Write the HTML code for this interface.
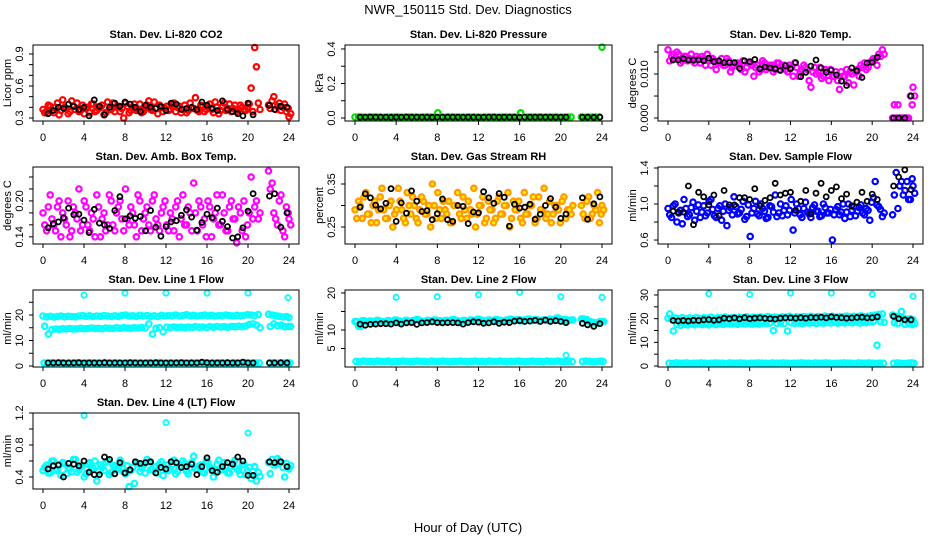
<!DOCTYPE html>
<html><head><meta charset="utf-8"><style>
html,body{margin:0;padding:0;background:#fff;}
svg{display:block;font-family:"Liberation Sans",Arial,sans-serif;}
</style></head><body>
<svg id="chart" width="936" height="540" viewBox="0 0 936 540" xmlns="http://www.w3.org/2000/svg">
<text x="468" y="14" font-size="13" text-anchor="middle">NWR_150115  Std. Dev. Diagnostics</text>
<text x="468" y="532" font-size="13" text-anchor="middle">Hour of Day (UTC)</text>
</svg>
<script>
// ---- data ----
const xTicks = [0,4,8,12,16,20,24];
const co2Red1 = [0.38,0.36,0.41,0.35,0.44,0.37,0.40,0.34,0.46,0.38,0.36,0.42,0.39,0.35,0.43,0.37,0.40,0.33,0.45,0.38,0.36,0.41,0.39,0.44,0.35,0.40,0.37,0.43,0.36,0.42,0.38,0.45,0.34,0.40,0.39,0.37,0.43,0.36,0.41,0.38,0.35,0.44,0.39,0.37,0.42,0.36,0.40,0.38,0.45,0.34,0.41,0.37,0.43,0.39,0.36,0.42,0.38,0.40,0.58,0.96,0.44,0.42,0.46,0.38,0.44,0.40,0.36,0.31];
const co2Red2 = [0.35,0.42,0.37,0.40,0.33,0.47,0.39,0.36,0.41,0.44,0.37,0.34,0.40,0.43,0.36,0.39,0.42,0.35,0.38,0.44,0.40,0.36,0.30,0.41,0.37,0.43,0.38,0.35,0.40,0.46,0.37,0.39,0.42,0.36,0.41,0.38,0.44,0.40,0.35,0.42,0.37,0.39,0.49,0.36,0.41,0.38,0.43,0.35,0.40,0.37,0.44,0.39,0.36,0.42,0.38,0.40,0.37,0.43,0.36,0.78,0.38,0.39,0.50,0.41,0.37,0.43,0.39,0.34];
const co2Black = [0.34,0.37,0.40,0.39,0.43,0.41,0.38,0.40,0.32,0.47,0.41,0.33,0.40,0.44,0.41,0.45,0.43,0.40,0.36,0.42,0.40,0.39,0.41,0.37,0.44,0.43,0.38,0.39,0.40,0.38,0.45,0.42,0.39,0.37,0.46,0.38,0.36,0.34,0.32,0.44,0.33,0.42,0.38,0.41,0.40];
const presGreen = [0.005,0.006,0.005,0.004,0.005,0.006,0.005,0.005,0.004,0.006,0.005,0.005,0.006,0.004,0.005,0.005,0.006,0.005,0.004,0.005,0.006,0.005,0.005,0.030,0.005,0.004,0.006,0.005,0.005,0.006,0.004,0.005,0.005,0.006,0.005,0.004,0.005,0.006,0.005,0.005,0.004,0.006,0.005,0.005,0.006,0.005,0.030,0.004,0.005,0.006,0.005,0.005,0.004,0.006,0.005,0.005,0.006,0.004,0.005,0.005,0.006,0.005,0.004,0.005,0.006,0.005,0.005,0.410];
const presBlack = [0.005,0.005,0.006,0.005,0.005,0.005,0.004,0.005,0.005,0.006,0.005,0.005,0.005,0.005,0.004,0.005,0.005,0.006,0.005,0.005,0.005,0.005,0.005,0.004,0.005,0.005,0.006,0.005,0.005,0.005,0.005,0.004,0.005,0.005,0.005,0.006,0.005,0.005,0.005,0.005,0.005,0.005,0.005,0.004,0.005];
const tempMag1 = [0.0155,0.014,0.0135,0.0145,0.013,0.014,0.0135,0.013,0.014,0.0125,0.0135,0.0145,0.012,0.013,0.0125,0.0135,0.012,0.013,0.0115,0.0125,0.012,0.013,0.0115,0.0125,0.0095,0.012,0.011,0.0125,0.0115,0.012,0.011,0.0125,0.0115,0.011,0.012,0.0095,0.0115,0.0105,0.012,0.011,0.007,0.0115,0.0105,0.009,0.011,0.0085,0.0095,0.0105,0.0065,0.0095,0.011,0.0105,0.0075,0.011,0.012,0.0125,0.0115,0.013,0.0135,0.0145,0.0155,0,0,0,0,0,0.005,0.007];
const tempMag2 = [0.013,0.0145,0.015,0.0125,0.014,0.013,0.0145,0.0125,0.0135,0.014,0.012,0.013,0.0135,0.011,0.0125,0.012,0.0135,0.0105,0.012,0.0125,0.011,0.0105,0.0125,0.012,0.0115,0.0105,0.013,0.011,0.012,0.0105,0.0125,0.011,0.012,0.0105,0.0115,0.0125,0.0095,0.011,0.0115,0.0085,0.0105,0.01,0.0115,0.0095,0.0105,0.011,0.0095,0.0085,0.0105,0.0095,0.008,0.01,0.0105,0.0095,0.0115,0.011,0.0125,0.0135,0.012,0.014,0.0145,0.003,0.003,0,0,0,0.003,0.005];
const tempBlack = [0.0132,0.0132,0.0135,0.0132,0.0132,0.0132,0.0130,0.0136,0.0128,0.013,0.0126,0.0126,0.0126,0.0113,0.013,0.0128,0.0133,0.0112,0.0116,0.0114,0.0112,0.0108,0.0119,0.0112,0.0126,0.0094,0.0104,0.0118,0.0132,0.0114,0.0104,0.0109,0.0098,0.0084,0.0074,0.0114,0.0107,0.0092,0.0125,0.0127,0.0138,0,0,0,0.005];
const ambMag1 = [0.18,0.15,0.21,0.16,0.19,0.14,0.17,0.20,0.15,0.18,0.22,0.16,0.19,0.15,0.17,0.21,0.14,0.18,0.16,0.20,0.15,0.19,0.17,0.22,0.16,0.18,0.14,0.20,0.17,0.19,0.15,0.21,0.16,0.18,0.20,0.15,0.17,0.19,0.14,0.21,0.16,0.18,0.23,0.15,0.19,0.17,0.20,0.14,0.18,0.16,0.21,0.15,0.19,0.17,0.13,0.18,0.20,0.16,0.24,0.19,0.17,0.25,0.23,0.17,0.20,0.15,0.19,0.17];
const ambMag2 = [0.16,0.19,0.17,0.15,0.20,0.18,0.16,0.14,0.19,0.17,0.15,0.20,0.16,0.18,0.14,0.19,0.17,0.15,0.21,0.16,0.18,0.20,0.15,0.17,0.19,0.16,0.21,0.15,0.18,0.16,0.20,0.17,0.15,0.19,0.16,0.18,0.15,0.20,0.17,0.16,0.19,0.15,0.18,0.20,0.16,0.14,0.19,0.17,0.21,0.16,0.18,0.15,0.20,0.17,0.19,0.15,0.14,0.18,0.17,0.20,0.18,0.22,0.18,0.16,0.21,0.14,0.18,0.16];
const ambBlack = [0.155,0.162,0.165,0.172,0.188,0.177,0.178,0.168,0.147,0.186,0.163,0.160,0.154,0.184,0.207,0.170,0.175,0.171,0.174,0.150,0.184,0.156,0.141,0.157,0.165,0.167,0.176,0.185,0.173,0.151,0.164,0.178,0.172,0.188,0.166,0.157,0.138,0.140,0.155,0.183,0.212,0.208,0.212,0.156,0.180];
const rh1 = [0.29,0.31,0.27,0.33,0.28,0.30,0.26,0.32,0.29,0.27,0.31,0.28,0.34,0.29,0.26,0.30,0.32,0.27,0.29,0.31,0.28,0.25,0.30,0.33,0.27,0.29,0.31,0.26,0.30,0.28,0.32,0.27,0.29,0.34,0.28,0.30,0.26,0.31,0.29,0.27,0.32,0.28,0.30,0.25,0.31,0.29,0.27,0.33,0.28,0.30,0.26,0.32,0.29,0.27,0.31,0.28,0.30,0.26,0.32,0.29,0.28,0.30,0.27,0.32,0.28,0.29,0.26,0.30];
const rh2 = [0.27,0.30,0.32,0.28,0.26,0.31,0.29,0.34,0.27,0.30,0.25,0.29,0.31,0.27,0.33,0.28,0.30,0.26,0.32,0.28,0.30,0.35,0.27,0.29,0.31,0.28,0.26,0.30,0.33,0.27,0.29,0.31,0.28,0.25,0.30,0.32,0.27,0.29,0.26,0.31,0.28,0.30,0.33,0.27,0.29,0.31,0.26,0.28,0.30,0.32,0.27,0.29,0.34,0.28,0.26,0.30,0.29,0.31,0.27,0.29,0.30,0.28,0.31,0.27,0.30,0.33,0.28,0.29];
const rhBlack = [0.296,0.327,0.318,0.301,0.292,0.305,0.339,0.263,0.306,0.282,0.334,0.310,0.286,0.288,0.267,0.281,0.315,0.267,0.263,0.300,0.298,0.258,0.285,0.283,0.332,0.318,0.305,0.328,0.319,0.252,0.303,0.294,0.296,0.303,0.268,0.280,0.300,0.316,0.296,0.270,0.280,0.318,0.268,0.304,0.320];
const flow1 = [0.95,0.85,1.00,0.90,0.78,0.95,0.88,1.02,0.92,0.85,0.98,0.90,1.05,0.87,0.95,0.82,1.00,0.93,0.88,0.97,0.90,1.03,0.86,0.64,0.95,0.89,1.00,0.92,0.85,0.97,1.10,0.90,0.87,0.98,0.93,0.71,1.00,0.88,0.95,0.91,0.85,0.99,0.92,0.87,0.96,0.90,0.60,0.94,0.88,1.00,0.91,0.86,0.97,0.92,0.99,0.88,0.93,1.02,1.25,0.97,0.86,0.88,1.35,1.20,1.10,1.25,1.05,1.20];
const flow2 = [0.88,0.98,0.80,0.93,1.05,0.86,0.96,0.82,0.99,0.91,0.87,1.03,0.94,0.85,0.98,0.92,0.76,0.96,1.08,0.89,0.94,0.83,0.99,0.90,1.03,0.87,0.95,0.84,0.98,0.91,0.86,1.00,0.93,0.88,1.05,0.90,0.95,0.85,1.02,0.89,0.96,0.92,0.86,1.00,0.90,0.94,0.88,0.97,0.91,0.84,1.00,0.93,0.87,0.96,0.90,0.95,0.82,1.07,0.99,0.94,0.90,1.10,0.95,1.25,1.15,1.05,1.28,1.12];
const flowBlack = [0.92,0.91,0.91,1.20,0.77,1.13,1.08,0.99,1.10,0.87,1.15,0.99,0.99,1.07,1.07,1.05,1.17,0.98,1.04,1.07,1.23,1.10,1.12,1.13,0.93,1.03,1.15,0.89,1.12,1.23,1.08,1.15,1.19,1.06,1.11,0.98,1.02,1.13,1.03,1.11,1.05,1.20,1.30,1.38,1.16];
const l1Upper = [19.6,19.3,19.5,19.2,19.4,19.6,19.3,19.5,19.4,19.3,19.6,19.8,19.5,19.7,19.4,19.6,19.5,19.8,19.6,19.4,19.7,19.5,19.8,20.0,19.6,19.7,19.5,19.9,19.6,19.8,19.5,19.7,19.4,19.9,19.6,19.8,19.7,20.0,19.6,19.8,20.1,19.7,19.9,19.6,19.8,20.0,19.7,19.9,19.6,19.8,19.7,20.0,19.8,19.6,19.9,19.7,19.8,20.1,20.0,19.8,20.2,20.3,20.0,19.7,19.5,19.2,19.4,19.0];
const l1Mid = [15.6,12.5,14.3,14.5,14.4,14.6,14.5,14.7,14.5,14.6,14.8,14.6,14.7,14.9,14.7,14.8,14.6,14.9,14.8,14.7,15.0,14.8,15.0,14.9,14.8,15.0,14.9,15.1,14.9,16.5,12.5,14.8,15.0,13.5,15.2,15.0,15.3,15.1,15.2,15.0,15.3,15.1,15.4,15.2,15.3,15.1,15.4,15.2,15.5,15.3,15.4,15.2,15.5,15.4,15.6,15.4,15.7,16.3,16.5,16.0,15.0,15.5,16.5,15.8,16.0,15.4,15.5,15.5];
const l1Low = [1.2,1.1,1.3,1.2,1.2,1.3,1.1,1.2,1.2,1.3,1.2,1.1,1.2,1.3,1.2,1.2,1.1,1.3,1.2,1.2,1.3,1.2,1.1,1.2,1.2,1.3,1.2,1.2,1.1,1.3,1.2,1.2,1.3,1.2,1.1,1.2,1.2,1.3,1.2,1.2,1.1,1.3,1.2,1.2,1.3,1.2,1.1,1.2,1.2,1.3,1.2,1.2,1.1,1.3,1.2,1.2,1.3,1.2,1.1,1.2,1.2,1.2,1.3,1.2,1.1,1.2,1.3,1.2];
const l1OutT = [4,8,12,16,20,23.9];
const l1OutV = [27.8,28.6,28.6,28.6,28.6,26.8];
const l1Black = [1.2,1.2,1.3,1.2,1.2,1.2,1.3,1.2,1.2,1.2,1.2,1.3,1.2,1.2,1.2,1.2,1.3,1.2,1.2,1.2,1.2,1.3,1.2,1.2,1.2,1.2,1.3,1.2,1.2,1.2,1.5,1.3,1.2,1.2,1.2,1.3,1.2,1.2,1.5,1.2,1.2,1.2,1.2,1.3,1.2];
const l2Upper = [12.3,11.0,12.5,12.2,12.4,12.1,12.6,12.3,12.2,12.5,12.3,12.7,12.4,12.2,12.6,12.3,12.5,12.8,12.4,12.3,12.6,12.4,12.7,12.5,12.3,12.6,12.4,12.8,12.5,12.3,12.6,12.4,12.7,12.5,12.9,12.6,12.4,12.7,12.5,12.8,12.6,12.4,12.7,12.9,12.6,12.8,12.5,12.7,12.9,12.6,12.8,12.5,12.7,12.6,12.9,12.7,13.2,12.5,12.8,12.6,12.7,13.0,12.8,12.3,12.0,11.8,12.2,12.3];
const l2Low = [1.5,1.4,1.6,1.5,1.5,1.4,1.6,1.5,1.5,1.6,1.4,1.5,1.5,1.6,1.5,1.4,1.5,1.6,1.5,1.5,1.4,1.6,1.5,1.5,1.6,1.5,1.4,1.5,1.5,1.6,1.5,1.4,1.5,1.6,1.5,1.5,1.4,1.6,1.5,1.5,1.6,1.5,1.4,1.5,1.5,1.6,1.5,1.4,1.5,1.6,1.5,1.5,1.4,1.6,1.5,1.5,1.6,1.5,1.4,1.5,1.5,1.5,1.6,1.5,1.4,1.5,1.6,1.5];
const l2OutT = [4,8,12,16,20,20.5,24];
const l2OutV = [18.8,19.0,19.5,20.2,19.0,3.2,18.8];
const l2Black = [11.6,11.3,11.5,11.6,11.7,11.7,11.6,11.9,11.6,11.9,12.0,11.5,11.9,12.0,12.2,12.0,11.9,12.0,12.0,11.9,11.6,12.0,12.2,12.1,11.8,11.9,12.2,11.8,12.1,12.0,12.4,12.5,12.3,12.4,12.6,12.3,12.7,12.3,12.5,12.3,12.0,11.8,11.4,11.0,11.7];
const l3Upper = [20.2,19.8,20.3,20.0,20.4,19.9,20.3,20.1,20.5,20.0,20.4,20.2,20.6,20.1,20.4,20.3,20.7,20.2,20.5,20.3,20.6,20.4,20.8,20.3,20.6,20.4,20.7,20.5,20.9,20.4,20.7,20.5,20.8,20.6,21.0,20.5,20.8,20.6,20.9,20.7,21.0,20.6,20.9,20.7,21.1,20.8,21.0,20.7,20.9,20.8,21.1,20.7,21.0,20.9,21.2,20.8,21.0,21.3,21.5,21.8,22.0,21.5,21.0,20.5,20.2,19.8,20.0,19.5];
const l3Mid = [22.0,14.8,17.5,17.2,17.6,17.3,17.7,17.4,17.8,17.5,17.7,17.4,17.9,17.5,17.8,17.6,18.0,17.7,17.9,17.6,18.0,17.8,18.1,17.7,18.0,17.8,18.2,17.9,18.1,14.9,18.0,18.2,17.9,14.8,18.3,18.0,18.2,17.9,18.3,18.1,18.4,18.0,18.3,18.1,18.4,18.2,18.5,18.1,18.4,18.2,18.5,18.3,18.6,18.2,18.5,18.3,18.6,18.9,8.8,18.7,18.5,18.3,18.0,23.0,17.6,17.8,17.5,17.9];
const l3Low = [1.2,1.1,1.3,1.2,1.2,1.3,1.1,1.2,1.2,1.3,1.2,1.1,1.2,1.3,1.2,1.2,1.1,1.3,1.2,1.2,1.3,1.2,1.1,1.2,1.2,1.3,1.2,1.2,1.1,1.3,1.2,1.2,1.3,1.2,1.1,1.2,1.2,1.3,1.2,1.2,1.1,1.3,1.2,1.2,1.3,1.2,1.1,1.2,1.2,1.3,1.2,1.2,1.1,1.3,1.2,1.2,1.3,1.2,1.1,1.2,1.2,1.2,1.3,1.2,1.1,1.2,1.3,1.2];
const l3OutT = [4,8,12,16,20,24];
const l3OutV = [30.5,30.2,30.8,30.8,30.3,29.5];
const l3Black = [19.2,19.0,19.2,19.0,19.3,19.2,19.5,19.6,19.3,19.5,20.2,20.0,20.3,19.9,20.4,20.0,20.2,20.3,20.1,20.0,19.8,20.2,20.3,20.3,20.2,20.4,20.2,20.5,20.4,20.6,20.3,20.8,20.5,20.4,20.2,20.3,20.5,20.6,20.3,20.4,20.8,21.0,20.0,19.5,19.5];
const l4a = [0.48,0.55,0.45,0.60,0.50,0.42,0.57,0.52,0.47,0.62,0.49,0.54,0.44,0.58,0.51,0.35,0.55,0.48,0.60,0.46,0.53,0.50,0.57,0.44,0.28,0.52,0.58,0.47,0.55,0.62,0.49,0.53,0.45,0.59,0.51,0.48,0.56,0.44,0.53,0.60,0.47,0.52,0.66,0.49,0.55,0.45,0.58,0.51,0.47,0.61,0.49,0.54,0.45,0.57,0.50,0.43,0.56,0.48,0.38,0.53,0.46,0.58,0.62,0.55,0.60,0.52,0.57,0.50];
const l4b = [0.52,0.45,0.60,0.48,0.55,0.58,0.44,0.50,0.62,0.46,0.53,0.40,0.56,0.49,0.60,0.47,0.52,0.58,0.43,0.55,0.50,0.61,0.46,0.54,0.48,0.32,0.57,0.51,0.45,0.59,0.49,0.53,0.56,0.42,0.55,0.50,0.61,0.47,0.52,0.57,0.44,0.58,0.50,0.54,0.46,0.60,0.52,0.40,0.56,0.49,0.58,0.45,0.53,0.61,0.48,0.55,0.43,0.52,0.47,0.35,0.41,0.44,0.55,0.63,0.58,0.40,0.52,0.54];
const l4OutT = [4,12,20];
const l4OutV = [1.17,1.08,0.95];
const l4Black = [0.50,0.54,0.55,0.40,0.57,0.56,0.54,0.60,0.46,0.43,0.43,0.65,0.62,0.44,0.58,0.45,0.49,0.59,0.57,0.58,0.59,0.45,0.52,0.50,0.59,0.58,0.52,0.53,0.56,0.43,0.53,0.64,0.48,0.46,0.53,0.58,0.56,0.65,0.60,0.42,0.42,0.59,0.58,0.59,0.53];

// ---- layout ----
const NS = "http://www.w3.org/2000/svg";
const svg = document.getElementById('chart');
const cols = [[33,299],[345,612],[658,923]];
const rows = [[45,121],[167,244],[290,367],[413,489]];
const tCol = [];
for (let i = 0; i <= 60; i++) tCol.push(i * 0.35);
[22,22.35,22.7,23.05,23.4,23.75,24].forEach(v => tCol.push(v));
const tBlk = [];
for (let i = 1; i <= 41; i++) tBlk.push(i * 0.5);
[22.1,22.6,23.2,23.8].forEach(v => tBlk.push(v));

function mk(tag, attrs, parent) {
  const e = document.createElementNS(NS, tag);
  for (const k in attrs) e.setAttribute(k, attrs[k]);
  (parent || svg).appendChild(e);
  return e;
}

const panels = [
 {id:'co2', title:'Stan. Dev. Li-820 CO2', yl:'Licor ppm', c:0, r:0, ymin:0.272, ymax:0.984, ticks:[0.3,0.4,0.5,0.6,0.7,0.8,0.9], labels:['0.3','0.6','0.9'], lv:[0.3,0.6,0.9],
  series:[[co2Red1,0,'#ff0000'],[co2Red2,0.17,'#ff0000']], out:null, black:co2Black},
 {id:'pressure', title:'Stan. Dev. Li-820 Pressure', yl:'kPa', c:1, r:0, ymin:-0.0174, ymax:0.423, ticks:[0,0.1,0.2,0.3,0.4], labels:['0.0','0.2','0.4'], lv:[0,0.2,0.4],
  series:[[presGreen,0,'#00dd00']], out:null, black:presBlack},
 {id:'temp', title:'Stan. Dev. Li-820 Temp.', yl:'degrees C', c:2, r:0, ymin:-0.00068, ymax:0.0166, ticks:[0,0.005,0.010,0.015], labels:['0.000','0.010'], lv:[0,0.010],
  series:[[tempMag1,0,'#ff00ff'],[tempMag2,0.17,'#ff00ff']], out:null, black:tempBlack},
 {id:'amb', title:'Stan. Dev. Amb. Box Temp.', yl:'degrees C', c:0, r:1, ymin:0.128, ymax:0.2567, ticks:[0.14,0.16,0.18,0.20,0.22,0.24], labels:['0.14','0.20'], lv:[0.14,0.20],
  series:[[ambMag1,0,'#ff00ff'],[ambMag2,0.17,'#ff00ff']], out:null, black:ambBlack},
 {id:'rh', title:'Stan. Dev. Gas Stream RH', yl:'percent', c:1, r:1, ymin:0.2105, ymax:0.3895, ticks:[0.25,0.30,0.35], labels:['0.25','0.35'], lv:[0.25,0.35],
  series:[[rh1,0,'#ff9900','#ffee00'],[rh2,0.17,'#ff9900','#ffee00']], out:null, black:rhBlack},
 {id:'sample-flow', title:'Stan. Dev. Sample Flow', yl:'ml/min', c:2, r:1, ymin:0.556, ymax:1.411, ticks:[0.6,0.8,1.0,1.2,1.4], labels:['0.6','1.0','1.4'], lv:[0.6,1.0,1.4],
  series:[[flow1,0,'#0000ff'],[flow2,0.17,'#0000ff']], out:null, black:flowBlack},
 {id:'line1', title:'Stan. Dev. Line 1 Flow', yl:'ml/min', c:0, r:2, ymin:-0.39, ymax:29.8, ticks:[0,5,10,15,20,25], labels:['0','10','20'], lv:[0,10,20],
  series:[[l1Upper,0,'#00ffff'],[l1Mid,0.17,'#00ffff'],[l1Low,0.1,'#00ffff']], out:[l1OutT,l1OutV], black:l1Black},
 {id:'line2', title:'Stan. Dev. Line 2 Flow', yl:'ml/min', c:1, r:2, ymin:0, ymax:20.8, ticks:[5,10,15,20], labels:['5','10','20'], lv:[5,10,20],
  series:[[l2Upper,0,'#00ffff'],[l2Upper,0.17,'#00ffff'],[l2Low,0.1,'#00ffff']], out:[l2OutT,l2OutV], black:l2Black},
 {id:'line3', title:'Stan. Dev. Line 3 Flow', yl:'ml/min', c:2, r:2, ymin:-0.42, ymax:32.1, ticks:[0,5,10,15,20,25,30], labels:['0','10','20','30'], lv:[0,10,20,30],
  series:[[l3Upper,0,'#00ffff'],[l3Mid,0.17,'#00ffff'],[l3Low,0.1,'#00ffff']], out:[l3OutT,l3OutV], black:l3Black},
 {id:'line4', title:'Stan. Dev. Line 4 (LT) Flow', yl:'ml/min', c:0, r:3, ymin:0.25, ymax:1.2, ticks:[0.4,0.6,0.8,1.0,1.2], labels:['0.4','0.8','1.2'], lv:[0.4,0.8,1.2],
  series:[[l4a,0,'#00ffff'],[l4b,0.17,'#00ffff']], out:[l4OutT,l4OutV], black:l4Black}
];

panels.forEach(p => {
  const [L,R] = cols[p.c], [T,B] = rows[p.r];
  const xs = h => (L + 10) + h * ((R - 10) - (L + 10)) / 24;
  const ys = v => B - (v - p.ymin) / (p.ymax - p.ymin) * (B - T);
  const g = mk('g', {});
  
  
  const ttl = mk('text', {x:(L+R)/2, y:T-7, 'font-size':11, 'font-weight':'bold', 'text-anchor':'middle'}, g);
  
  
  ttl.textContent = p.title;
  const pts = mk('g', {}, g);
  
  
  p.series.forEach(s => {
    const [vals, off, col, fill] = s;
    vals.forEach((v, i) => {
      const t = tCol[i] + off;
      if (v < p.ymin || v > p.ymax) return;
      const c = mk('circle', {cx:xs(t).toFixed(1), cy:ys(v).toFixed(1), r:2.7, fill:fill||'none', stroke:col, 'stroke-width':2.2}, pts);
      
      
    });
  });
  if (p.out) {
    p.out[0].forEach((t, i) => {
      const c = mk('circle', {cx:xs(t).toFixed(1), cy:ys(p.out[1][i]).toFixed(1), r:2.6, fill:'none', stroke:'#00ffff', 'stroke-width':1.8}, pts);
      
      
    });
  }
  p.black.forEach((v, i) => {
    const c = mk('circle', {cx:xs(tBlk[i]).toFixed(1), cy:ys(v).toFixed(1), r:2.5, fill:'none', stroke:'#000', 'stroke-width':1.8}, pts);
    
    
  });
  const box = mk('rect', {x:L, y:T, width:R-L, height:B-T, fill:'none', stroke:'#000', 'stroke-width':1}, g);
  
  
  const xa = mk('g', {'font-size':11, 'text-anchor':'middle'}, g);
  
  
  mk('line', {x1:xs(0), x2:xs(24), y1:B, y2:B, stroke:'#000'}, xa);
  xTicks.forEach(h => {
    mk('line', {x1:xs(h), x2:xs(h), y1:B, y2:B+4, stroke:'#000'}, xa);
    const tx = mk('text', {x:xs(h), y:B+20}, xa);
    
    
    tx.textContent = h;
  });
  const ya = mk('g', {'font-size':11, 'text-anchor':'middle'}, g);
  
  
  p.ticks.forEach(v => {
    mk('line', {x1:L-4, x2:L, y1:ys(v), y2:ys(v), stroke:'#000'}, ya);
  });
  p.labels.forEach((lab, i) => {
    const y = ys(p.lv[i]);
    const tx = mk('text', {x:L-10, y:y, transform:`rotate(-90 ${L-10} ${y})`}, ya);
    
    
    tx.textContent = lab;
  });
  const yt = mk('text', {x:L-22, y:(T+B)/2, 'font-size':11, 'text-anchor':'middle', transform:`rotate(-90 ${L-22} ${(T+B)/2})`}, g);
  
  
  yt.textContent = p.yl;
});
</script>
</body></html>
